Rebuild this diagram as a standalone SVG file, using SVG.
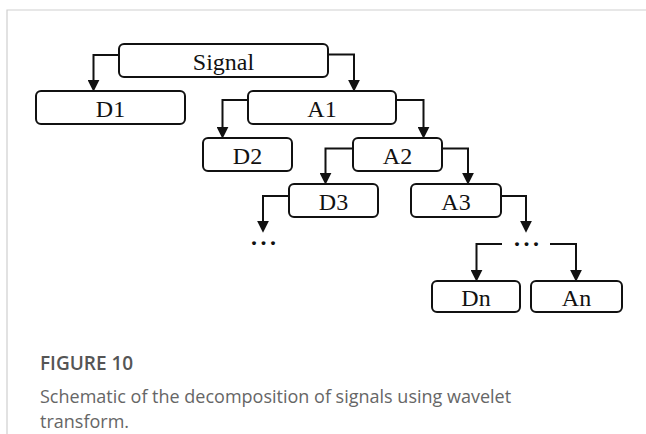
<svg xmlns="http://www.w3.org/2000/svg" width="646" height="434" viewBox="0 0 646 434">
<style>
.box{fill:#fff;stroke:#111;stroke-width:2}
.lbl{font-family:"Liberation Serif","Times New Roman",serif;font-size:24px;fill:#111;text-anchor:middle}
.dots{font-family:"Liberation Serif","Times New Roman",serif;font-size:24px;font-weight:bold;fill:#111;letter-spacing:3.5px}
.con{fill:none;stroke:#111;stroke-width:2}
.frame{fill:none;stroke:#cfcfcf;stroke-width:1.2}
.cap1{font-family:"Open Sans","Noto Sans",sans-serif;font-size:19px;font-weight:600;fill:#555}
.cap2{font-family:"Open Sans","Noto Sans",sans-serif;font-size:18px;fill:#666}
</style>
<defs>
<marker id="ah" markerUnits="userSpaceOnUse" markerWidth="12" markerHeight="12" viewBox="0 0 11 11" refX="3" refY="5.5" orient="auto">
<path d="M0,0 L11,5.5 L0,11 z" fill="#111"/>
</marker>
</defs>
<path class="frame" d="M7,434 V10 H646"/>
<g id="connectors">
<path class="con" marker-end="url(#ah)" d="M119,55 H93.5 V83"/>
<path class="con" marker-end="url(#ah)" d="M328,54.5 H354 V83"/>
<path class="con" marker-end="url(#ah)" d="M248,100 H222.5 V130"/>
<path class="con" marker-end="url(#ah)" d="M396,100 H423.5 V130"/>
<path class="con" marker-end="url(#ah)" d="M353,148.5 H325.5 V176"/>
<path class="con" marker-end="url(#ah)" d="M442,148.5 H468 V176"/>
<path class="con" marker-end="url(#ah)" d="M289,196 H263 V224"/>
<path class="con" marker-end="url(#ah)" d="M501,196 H526 V224"/>
<path class="con" marker-end="url(#ah)" d="M502,244 H476.5 V273"/>
<path class="con" marker-end="url(#ah)" d="M550,244 H576 V273"/>
</g>
<g id="signal"><rect class="box" x="119" y="44" width="209" height="33" rx="5"/><text class="lbl" x="223.5" y="70">Signal</text></g>
<g id="d1"><rect class="box" x="36" y="91" width="149" height="33" rx="5"/><text class="lbl" x="110.5" y="117">D1</text></g>
<g id="a1"><rect class="box" x="248" y="91" width="148" height="33" rx="5"/><text class="lbl" x="322" y="117">A1</text></g>
<g id="d2"><rect class="box" x="203" y="138" width="89" height="33" rx="5"/><text class="lbl" x="247.5" y="164">D2</text></g>
<g id="a2"><rect class="box" x="353" y="138" width="89" height="33" rx="5"/><text class="lbl" x="397.5" y="164">A2</text></g>
<g id="d3"><rect class="box" x="289" y="184" width="89" height="33" rx="5"/><text class="lbl" x="333.5" y="210">D3</text></g>
<g id="a3"><rect class="box" x="411" y="184" width="90" height="33" rx="5"/><text class="lbl" x="456" y="210">A3</text></g>
<g id="dots1"><text class="dots" x="251" y="245">...</text></g>
<g id="dots2"><text class="dots" x="514" y="246">...</text></g>
<g id="dn"><rect class="box" x="432" y="281" width="88" height="31" rx="5"/><text class="lbl" x="476" y="306">Dn</text></g>
<g id="an"><rect class="box" x="531" y="281" width="91" height="31" rx="5"/><text class="lbl" x="576.5" y="306">An</text></g>
<g id="caption">
<text class="cap1" x="40" y="370">FIGURE 10</text>
<text class="cap2" x="40" y="403">Schematic of the decomposition of signals using wavelet</text>
<text class="cap2" x="40" y="428">transform.</text>
</g>
</svg>
